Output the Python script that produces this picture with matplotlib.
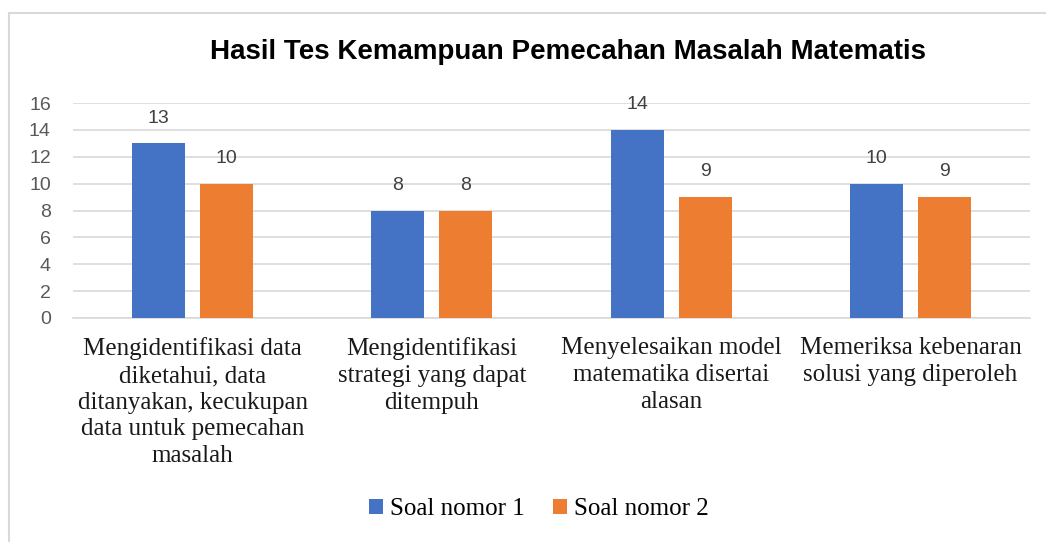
import matplotlib
matplotlib.use("Agg")
import matplotlib.pyplot as plt
import numpy as np

categories = [
    "Mengidentifikasi data\ndiketahui, data\nditanyakan, kecukupan\ndata untuk pemecahan\nmasalah",
    "Mengidentifikasi\nstrategi yang dapat\nditempuh",
    "Menyelesaikan model\nmatematika disertai\nalasan",
    "Memeriksa kebenaran\nsolusi yang diperoleh",
]
series_names = ["Soal nomor 1", "Soal nomor 2"]
soal1 = [13, 8, 14, 10]
soal2 = [10, 8, 9, 9]
colors = ["#4472C4", "#ED7D31"]
yticks = [0, 2, 4, 6, 8, 10, 12, 14, 16]

W, H = 1046, 542
fig = plt.figure(figsize=(W / 100, H / 100), dpi=100)
fig.patch.set_facecolor("white")

# outer chart border (top and left visible)
fig.add_artist(plt.Line2D([9 / W, 9 / W], [0, 1 - 13 / H], color="#D9D9D9", lw=1.5))
fig.add_artist(plt.Line2D([9 / W, 1], [1 - 13 / H, 1 - 13 / H], color="#D9D9D9", lw=1.5))

left, right, top, bottom = 73, 1030, 103, 318
ax = fig.add_axes([left / W, 1 - bottom / H, (right - left) / W, (bottom - top) / H])
x = np.arange(len(categories))
bw = 0.222
off = 0.142
b1 = ax.bar(x - off, soal1, bw, color=colors[0], label=series_names[0], zorder=3)
b2 = ax.bar(x + off, soal2, bw, color=colors[1], label=series_names[1], zorder=3)
ax.set_xlim(-0.5, len(categories) - 0.5)
ax.set_ylim(0, 16)
ax.set_yticks(yticks)
ax.yaxis.grid(True, color="#D9D9D9", lw=1.2, zorder=0)
ax.set_axisbelow(True)
for s in ["top", "right", "left"]:
    ax.spines[s].set_visible(False)
ax.spines["bottom"].set_color("#D9D9D9")
ax.spines["bottom"].set_linewidth(1.2)
ax.tick_params(axis="y", length=0, labelsize=14, labelcolor="#595959", pad=16)
for lab in ax.get_yticklabels():
    lab.set_fontfamily("Liberation Sans")
ax.set_xticks(x)
ax.set_xticklabels(categories, fontfamily="Liberation Serif", fontsize=18,
                   color="#1a1a1a", linespacing=1.27)
ax.tick_params(axis="x", length=0, pad=14)

for bars in (b1, b2):
    ax.bar_label(bars, padding=12, fontsize=14, color="#404040", fontfamily="Liberation Sans")

fig.text(568 / W, 1 - 52 / H, "Hasil Tes Kemampuan Pemecahan Masalah Matematis",
         ha="center", va="center", fontsize=20, fontweight="bold",
         fontfamily="Liberation Sans", color="black")

leg = fig.legend(handles=[b1, b2], labels=series_names, loc="center",
                 bbox_to_anchor=(539 / W, 1 - 509 / H), ncol=2, frameon=False,
                 prop={"family": "Liberation Serif", "size": 18},
                 handlelength=0.55, handleheight=0.55, handletextpad=0.3,
                 columnspacing=1.1)

fig.savefig("out.png", dpi=100)
